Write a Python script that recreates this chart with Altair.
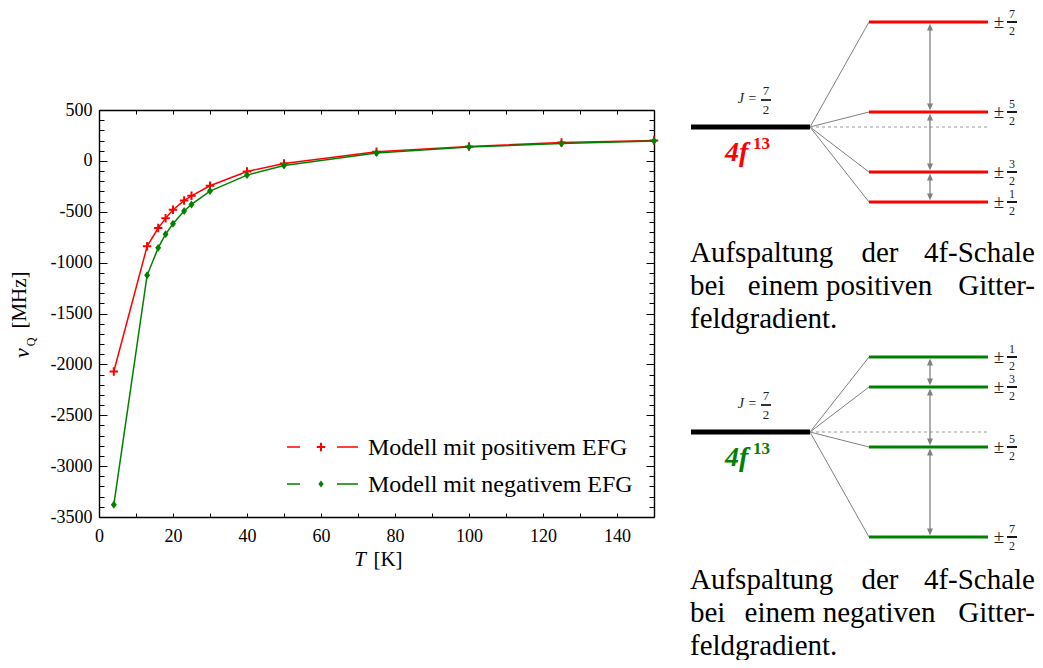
import altair as alt
import pandas as pd

# ---------------- data ----------------
T_K = [4, 13, 16, 18, 20, 23, 25, 30, 40, 50, 75, 100, 125, 150]
nu_pos = [-2070, -840, -660, -565, -480, -390, -343, -245, -105, -25, 90, 142, 180, 200]
nu_neg = [-3380, -1125, -855, -720, -618, -493, -428, -297, -140, -45, 78, 137, 170, 195]
series_names = ["Modell mit positivem EFG", "Modell mit negativem EFG"]
series_colors = ["#ff0000", "#008000"]

x_label_values = [0, 20, 40, 60, 80, 100, 120, 140]
x_tick_values = [0, 10, 20, 30, 40, 50, 60, 70, 80, 90, 100, 110, 120, 130, 140, 150]
y_label_values = [-3500, -3000, -2500, -2000, -1500, -1000, -500, 0, 500]
y_tick_values = list(range(-3500, 501, 100))

x_title = ["T", "[K]"]
y_title = ["ν", "Q", "[MHz]"]

m_numerators = ["7", "5", "3", "1"]
m_denominator = "2"
E_pos = [21, 3, -9, -15]
E_neg = [-21, -3, 9, 15]
J_text = "J ="
J_num, J_den = "7", "2"
shell_text, shell_sup = "4f", "13"
caption_pos = [["Aufspaltung", "der", "4f-Schale"], ["bei", "einem positiven", "Gitter-"], ["feldgradient."]]
caption_neg = [["Aufspaltung", "der", "4f-Schale"], ["bei", "einem negativen", "Gitter-"], ["feldgradient."]]

# ---------------- style ----------------
SERIF = "Liberation Serif"
GRAY = "#808080"
W, H = 555, 407
PLUS = "M-1,0H1M0,-1V1"
DIAM = "M0,-1.2L0.9,0L0,1.2L-0.9,0Z"
UP = "M0,-1L0.85,1L-0.85,1Z"
DOWN = "M0,1L0.85,-1L-0.85,-1Z"

XS = alt.Scale(domain=[0, 150], nice=False, zero=False)
YS = alt.Scale(domain=[-3500, 500], nice=False, zero=False)

df = pd.DataFrame({
    "T": T_K * 2,
    "nu": nu_pos + nu_neg,
    "Modell": [series_names[0]] * len(T_K) + [series_names[1]] * len(T_K),
})
ONE = pd.DataFrame({"k": [0]})

layers = []

# ---- main axes (labels + frame) ----
ax_x = alt.Axis(values=x_label_values, orient="bottom", ticks=False, tickSize=0, labelPadding=10,
                labelFont=SERIF, labelFontSize=18, labelColor="black", domainColor="black",
                domainWidth=1.4, grid=False, title=None, labelFlush=False)
ax_y = alt.Axis(values=y_label_values, orient="left", ticks=False, tickSize=0, labelPadding=7,
                labelFont=SERIF, labelFontSize=18, labelColor="black", domainColor="black",
                domainWidth=1.4, grid=False, title=None, labelExpr="'' + datum.value")

def series_layers(i, shape, filled, size, first):
    d = df[df["Modell"] == series_names[i]]
    xa = ax_x if first else None
    ya = ax_y if first else None
    line = alt.Chart(d).mark_line(color=series_colors[i], strokeWidth=1.5).encode(
        x=alt.X("T:Q", scale=XS, axis=xa), y=alt.Y("nu:Q", scale=YS, axis=ya))
    pts = alt.Chart(d).mark_point(shape=shape, filled=filled, size=size, opacity=1,
                                  color=series_colors[i], strokeWidth=2 if not filled else 0).encode(
        x=alt.X("T:Q", scale=XS, axis=None), y=alt.Y("nu:Q", scale=YS, axis=None))
    return [line, pts]

layers += series_layers(0, PLUS, False, 72, True)
layers += series_layers(1, DIAM, True, 44, False)

# ---- inward ticks on all four sides ----
ysize = {"condition": {"test": "datum.value % 500 === 0", "value": 8}, "value": 5}
tick_common = dict(labels=False, grid=False, title=None, tickColor="black", tickWidth=1)
tA = alt.Chart(df).mark_point(opacity=0).encode(
    x=alt.X("T:Q", scale=XS, axis=alt.Axis(orient="top", offset=-H, values=x_tick_values,
                                           domain=False, tickSize=4, **tick_common)),
    y=alt.Y("nu:Q", scale=YS, axis=alt.Axis(orient="right", offset=-W, values=y_tick_values,
                                            domain=False, tickSize=ysize, **tick_common)))
tB = alt.Chart(df).mark_point(opacity=0).encode(
    x=alt.X("T:Q", scale=XS, axis=alt.Axis(orient="bottom", offset=-H, values=x_tick_values,
                                           domain=True, domainColor="black", domainWidth=1.4,
                                           tickSize=4, **tick_common)),
    y=alt.Y("nu:Q", scale=YS, axis=alt.Axis(orient="left", offset=-W, values=y_tick_values,
                                            domain=True, domainColor="black", domainWidth=1.4,
                                            tickSize=ysize, **tick_common)))
layers += [tA, tB]

# ---- text helper ----
def txt(s, x, y, size, align="left", baseline="alphabetic", color="black", style="normal",
        weight="normal", angle=0):
    return alt.Chart(ONE).mark_text(text=s, align=align, baseline=baseline, fontSize=size,
                                    font=SERIF, color=color, fontStyle=style, fontWeight=weight,
                                    angle=angle).encode(x=alt.value(x), y=alt.value(y))

# ---- axis titles ----
layers.append(txt(x_title[0], 261, 450, 21, align="center", baseline="middle", style="italic"))
layers.append(txt(x_title[1], 289, 450, 21, align="center", baseline="middle"))
layers.append(txt(y_title[0], -77, 243, 22, align="center", baseline="middle", style="italic", angle=270))
layers.append(txt(y_title[1], -68, 232, 12, align="center", baseline="middle", angle=270))
layers.append(txt(y_title[2], -79, 190, 21, align="center", baseline="middle", angle=270))

# ---- legend ----
leg = pd.DataFrame({"Modell": series_names})
LY = alt.Scale(type="point", domain=series_names, range=[337, 374], padding=0)
LC = alt.Scale(domain=series_names, range=series_colors)
ly = alt.Y("Modell:N", scale=LY, axis=None)
lc = alt.Color("Modell:N", scale=LC, legend=None)
layers.append(alt.Chart(leg).mark_rule(strokeWidth=1.5).encode(y=ly, color=lc, x=alt.value(188), x2=alt.value(201)))
layers.append(alt.Chart(leg).mark_rule(strokeWidth=1.5).encode(y=ly, color=lc, x=alt.value(238), x2=alt.value(259)))
layers.append(alt.Chart(leg).transform_filter(alt.datum.Modell == series_names[0]).mark_point(
    shape=PLUS, size=72, strokeWidth=2, filled=False, opacity=1, color=series_colors[0]).encode(
    y=ly, x=alt.value(222)))
layers.append(alt.Chart(leg).transform_filter(alt.datum.Modell == series_names[1]).mark_point(
    shape=DIAM, size=34, filled=True, opacity=1, color=series_colors[1]).encode(
    y=ly, x=alt.value(222)))
layers.append(alt.Chart(leg).mark_text(align="left", baseline="alphabetic", font=SERIF, fontSize=24,
                                       color="black", yOffset=8).encode(
    y=ly, text="Modell:N", x=alt.value(269)))

# ---- level diagrams ----
def diagram(E, color, cy):
    ys = alt.Scale(domain=[-21, 21], range=[cy + 105, cy - 105], nice=False, zero=False)
    lev = pd.DataFrame({"E": E, "num": m_numerators, "den": [m_denominator] * len(E), "zero": [0] * len(E)})
    Ey = alt.Y("E:Q", scale=ys, axis=None)
    Zy = alt.Y("zero:Q", scale=ys, axis=None)
    center = pd.DataFrame({"zero": [0]})
    out = []
    out.append(alt.Chart(lev).mark_rule(color=GRAY, strokeWidth=1).encode(
        x=alt.value(711), x2=alt.value(770), y=Zy, y2="E:Q"))
    out.append(alt.Chart(center).mark_rule(color="#999999", strokeWidth=1, strokeDash=[3, 3]).encode(
        x=alt.value(711), x2=alt.value(889), y=Zy))
    out.append(alt.Chart(center).mark_rule(color="black", strokeWidth=5).encode(
        x=alt.value(592), x2=alt.value(711), y=Zy))
    out.append(alt.Chart(lev).mark_rule(color=color, strokeWidth=3).encode(
        x=alt.value(770), x2=alt.value(889), y=Ey))
    Es = sorted(E, reverse=True)
    arr = pd.DataFrame({"hi": Es[:-1], "lo": Es[1:]})
    out.append(alt.Chart(arr).mark_rule(color=GRAY, strokeWidth=1.3, yOffset=6, y2Offset=-6).encode(
        x=alt.value(831), y=alt.Y("hi:Q", scale=ys, axis=None), y2="lo:Q"))
    out.append(alt.Chart(arr).mark_point(shape=UP, size=49, filled=True, color=GRAY, opacity=1, yOffset=5).encode(
        x=alt.value(831), y=alt.Y("hi:Q", scale=ys, axis=None)))
    out.append(alt.Chart(arr).mark_point(shape=DOWN, size=49, filled=True, color=GRAY, opacity=1, yOffset=-5).encode(
        x=alt.value(831), y=alt.Y("lo:Q", scale=ys, axis=None)))
    # level labels  ± n/2
    out.append(alt.Chart(lev).mark_text(text="±", font=SERIF, fontSize=19, align="center",
                                        baseline="middle", color="#222222").encode(x=alt.value(900), y=Ey))
    out.append(alt.Chart(lev).mark_text(font=SERIF, fontSize=12, align="center", baseline="middle",
                                        color="#222222", yOffset=-8).encode(x=alt.value(913), y=Ey, text="num:N"))
    out.append(alt.Chart(lev).mark_text(font=SERIF, fontSize=12, align="center", baseline="middle",
                                        color="#222222", yOffset=9).encode(x=alt.value(913), y=Ey, text="den:N"))
    out.append(alt.Chart(lev).mark_rule(color="black", strokeWidth=1.8).encode(
        x=alt.value(908), x2=alt.value(918), y=Ey))
    # J = 7/2
    out.append(txt(J_text, 658, cy - 28, 14, align="right", baseline="middle", style="italic", color="#222222"))
    out.append(txt(J_num, 667, cy - 36, 13, align="center", baseline="middle", color="#222222"))
    out.append(txt(J_den, 667, cy - 17, 13, align="center", baseline="middle", color="#222222"))
    out.append(alt.Chart(ONE).mark_rule(color="black", strokeWidth=1.6).encode(
        x=alt.value(662), x2=alt.value(672), y=alt.value(cy - 27)))
    # 4f^13
    out.append(txt(shell_text, 626, cy + 34, 28, color=color, style="italic", weight="bold"))
    out.append(txt(shell_sup, 654, cy + 22, 17, color=color, weight="bold"))
    return out

def caption(lines, y0):
    out = []
    left, right = 591, 936
    mids = [781, 741]
    for i, words in enumerate(lines):
        y = y0 + 33 * i
        if len(words) == 1:
            out.append(txt(words[0], left, y, 29))
        else:
            out.append(txt(words[0], left, y, 29))
            out.append(txt(words[1], mids[i], y, 29, align="center"))
            out.append(txt(words[2], right, y, 29, align="right"))
    return out

layers += diagram(E_pos, series_colors[0], 17)
layers += caption(caption_pos, 152)
layers += diagram(E_neg, series_colors[1], 322)
layers += caption(caption_neg, 479)

chart = alt.layer(*layers).resolve_scale(
    x="independent", y="independent", color="independent"
).resolve_axis(x="independent", y="independent").properties(
    width=W, height=H,
    padding={"left": 91, "top": 102, "right": 381, "bottom": 143},
    autosize=alt.AutoSizeParams(type="none"),
).configure_view(stroke=None)

chart.save("out.html", embed_options={"renderer": "svg", "actions": False})
